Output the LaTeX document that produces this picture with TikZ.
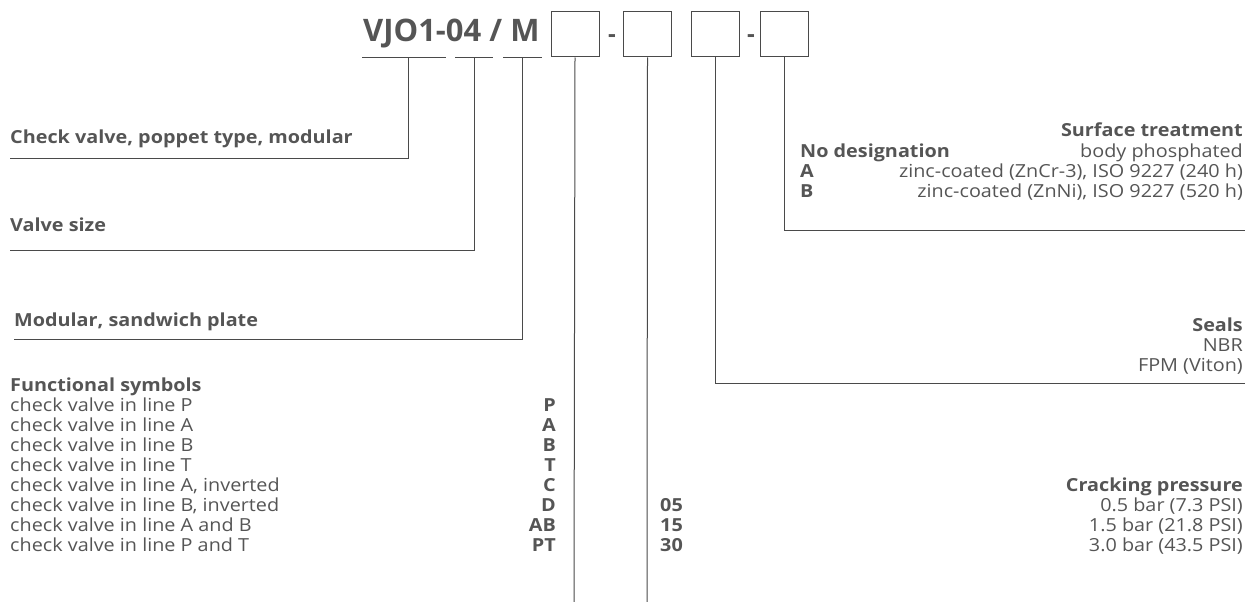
\documentclass[tikz,border=0pt]{standalone}
\usepackage{fontspec}
\setmainfont{Open Sans}[FakeStretch=1.1]
\newfontfamily\titlefont{Open Sans}
\definecolor{txt}{HTML}{555555}
\definecolor{ln}{HTML}{4A4A4A}
\begin{document}
\begin{tikzpicture}[x=1pt,y=-1pt,
  lbl/.style={inner sep=0pt,text=txt,font=\fontsize{18}{20}\selectfont},
  blbl/.style={lbl,font=\fontsize{18}{20}\selectfont\bfseries},
  codebox/.style={draw=ln,line width=1pt,minimum width=48pt,minimum height=45pt,inner sep=0pt},
  dashsym/.style={inner sep=0pt,anchor=base,text=txt,font=\titlefont\fontsize{24}{28}\selectfont\bfseries},
  conn/.style={draw=ln,line width=1pt}]
\useasboundingbox (0,0) rectangle (1245,602);
% title
\node[inner sep=0pt,anchor=base west,text=txt,font=\titlefont\fontsize{31}{36}\selectfont\bfseries] (title) at (363,42) {VJO1-04 / M};
\node[codebox] (b1) at (575,34.5) {};
\node[codebox] (b2) at (647.5,34.5) {};
\node[codebox] (b3) at (715,34.5) {};
\node[codebox] (b4) at (784.5,34.5) {};
\node[dashsym] (d1) at (612,43) {-};
\node[dashsym] (d2) at (751,43) {-};
% underlines
\coordinate (u1a) at (362,58); \coordinate (u1b) at (446,58);
\coordinate (u2a) at (455,58); \coordinate (u2b) at (493,58);
\coordinate (u3a) at (503,58); \coordinate (u3b) at (542,58);
\draw[conn] (u1a) -- (u1b);
\draw[conn] (u2a) -- (u2b);
\draw[conn] (u3a) -- (u3b);
% left labels
\node[blbl,anchor=base west] (l1) at (10,143) {Check valve, poppet type, modular};
\node[blbl,anchor=base west] (l2) at (10,231) {Valve size};
\node[blbl,anchor=base west] (l3) at (14,326) {Modular, sandwich plate};
\coordinate (e1) at (10,158);
\coordinate (e2) at (10,250);
\coordinate (e3) at (14,339);
\draw[conn] (408,58) |- (e1);
\draw[conn] (474,58) |- (e2);
\draw[conn] (522,58) |- (e3);
% functional symbols
\node[blbl,anchor=base west] (fs) at (10,391) {Functional symbols};
\foreach \t/\c [count=\i from 0] in {check valve in line P/P,check valve in line A/A,check valve in line B/B,check valve in line T/T,{check valve in line A, inverted}/C,{check valve in line B, inverted}/D,check valve in line A and B/AB,check valve in line P and T/PT}{
  \node[lbl,anchor=base west] (ft\i) at (10,411+20*\i) {\t};
  \node[blbl,anchor=base east] (fc\i) at (556,411+20*\i) {\c};
}
\coordinate (bot1) at (574,602);
\coordinate (bot2) at (647,602);
\draw[conn] (b1.south) -- (bot1);
\draw[conn] (b2.south) -- (bot2);
% cracking pressure
\node[blbl,anchor=base east] (cp) at (1243,491) {Cracking pressure};
\foreach \c/\v [count=\i from 0] in {05/0.5 bar (7.3 PSI),15/1.5 bar (21.8 PSI),30/3.0 bar (43.5 PSI)}{
  \node[blbl,anchor=base west] (cc\i) at (660,511+20*\i) {\c};
  \node[lbl,anchor=base east] (cv\i) at (1243,511+20*\i) {\v};
}
% seals
\node[blbl,anchor=base east] (se) at (1243,331) {Seals};
\node[lbl,anchor=base east] (se1) at (1243,351) {NBR};
\node[lbl,anchor=base east] (se2) at (1243,371) {FPM (Viton)};
\coordinate (sr) at (1245,383);
\draw[conn] (b3.south) |- (sr);
% surface treatment
\node[blbl,anchor=base east] (st) at (1243,136) {Surface treatment};
\node[blbl,anchor=base west] (sk0) at (800,157) {No designation};
\node[blbl,anchor=base west] (sk1) at (800,177) {A};
\node[blbl,anchor=base west] (sk2) at (800,197) {B};
\node[lbl,anchor=base east] (sv0) at (1243,157) {body phosphated};
\node[lbl,anchor=base east] (sv1) at (1243,177) {zinc-coated (ZnCr-3), ISO 9227 (240 h)};
\node[lbl,anchor=base east] (sv2) at (1243,197) {zinc-coated (ZnNi), ISO 9227 (520 h)};
\coordinate (str) at (1245,230);
\draw[conn] (b4.south) |- (str);
\end{tikzpicture}
\end{document}
